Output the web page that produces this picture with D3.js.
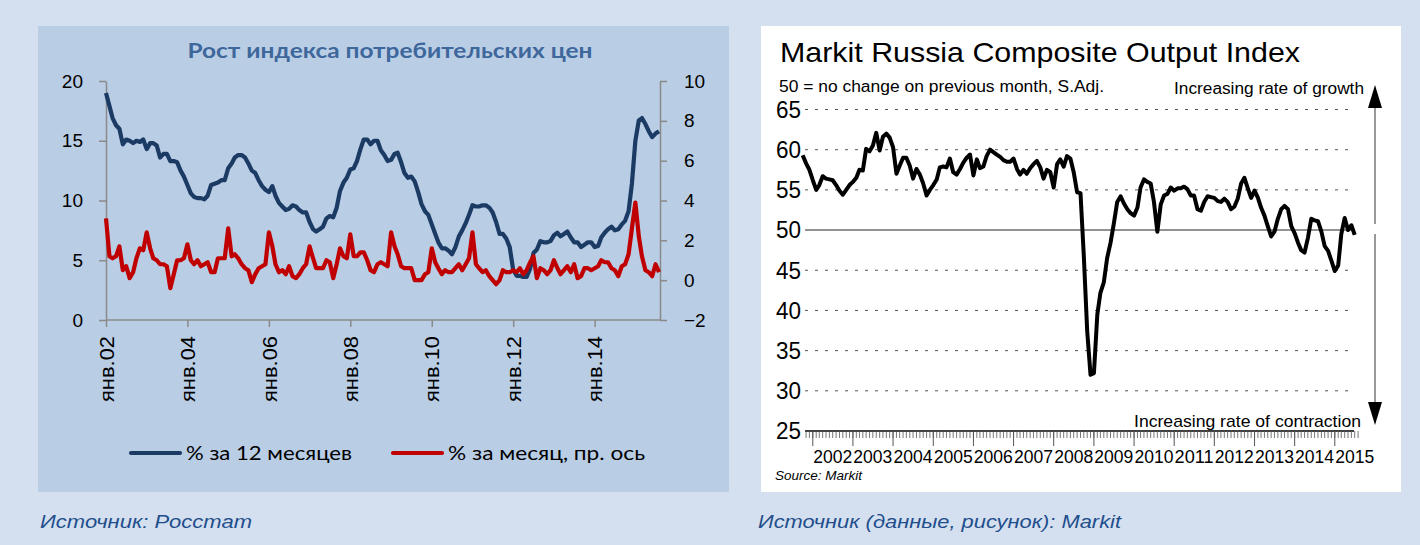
<!DOCTYPE html>
<html>
<head>
<meta charset="utf-8">
<script src="https://cdn.jsdelivr.net/npm/d3@7"></script>
<style>
  html, body { margin: 0; padding: 0; background: #d4e0ef; }
  svg { display: block; }
</style>
</head>
<body>
<div id="chart"></div>
<script>
// ---- data: CPI (Rosstat), monthly from Jan 2002 ----
const cpiStart = new Date(2002, 0, 1);
const cpiYear = [
  19.0, 17.9, 16.9, 16.3, 16.0, 14.7, 15.1, 15.0, 14.8, 15.0, 14.9, 15.1,
  14.3, 14.8, 14.8, 14.6, 13.6, 13.9, 13.9, 13.3, 13.3, 13.2, 12.5, 12.0,
  11.3, 10.6, 10.3, 10.2, 10.2, 10.1, 10.4, 11.3, 11.4, 11.5, 11.7, 11.7,
  12.7, 13.1, 13.6, 13.8, 13.8, 13.6, 13.1, 12.5, 12.3, 11.7, 11.2, 10.9,
  10.7, 11.2, 10.4, 9.8, 9.5, 9.2, 9.3, 9.6, 9.5, 9.2, 9.0, 9.0,
  8.2, 7.6, 7.4, 7.6, 7.8, 8.5, 8.7, 8.6, 9.4, 10.8, 11.5, 11.9,
  12.6, 12.7, 13.3, 14.3, 15.1, 15.1, 14.7, 15.0, 15.0, 14.2, 13.8, 13.3,
  13.4, 13.9, 14.0, 13.2, 12.3, 11.9, 12.0, 11.6, 10.7, 9.7, 9.1, 8.8,
  8.0, 7.2, 6.5, 6.0, 6.0, 5.8, 5.5, 6.1, 7.0, 7.5, 8.1, 8.8,
  9.6, 9.5, 9.5, 9.6, 9.6, 9.4, 9.0, 8.2, 7.2, 7.2, 6.8, 6.1,
  4.2, 3.7, 3.7, 3.6, 3.6, 4.3, 5.6, 5.9, 6.6, 6.5, 6.5, 6.6,
  7.1, 7.3, 7.0, 7.2, 7.4, 6.9, 6.5, 6.5, 6.1, 6.3, 6.5, 6.5,
  6.1, 6.2, 6.9, 7.3, 7.6, 7.8, 7.5, 7.6, 8.0, 8.3, 9.1, 11.4,
  15.0, 16.7, 16.9, 16.4, 15.8, 15.3, 15.6, 15.8
];
const cpiMonth = [
  3.1, 1.2, 1.1, 1.2, 1.7, 0.5, 0.7, 0.1, 0.4, 1.1, 1.6, 1.5,
  2.4, 1.6, 1.1, 1.0, 0.8, 0.8, 0.7, -0.4, 0.3, 1.0, 1.0, 1.1,
  1.8, 1.0, 0.8, 1.0, 0.7, 0.8, 0.9, 0.4, 0.4, 1.1, 1.1, 1.1,
  2.6, 1.2, 1.3, 1.1, 0.8, 0.6, 0.5, -0.1, 0.3, 0.6, 0.7, 0.8,
  2.4, 1.7, 0.8, 0.4, 0.5, 0.3, 0.7, 0.2, 0.1, 0.3, 0.6, 0.8,
  1.7, 1.1, 0.6, 0.6, 0.6, 1.0, 0.9, 0.1, 0.8, 1.6, 1.2, 1.1,
  2.3, 1.2, 1.2, 1.4, 1.4, 1.0, 0.5, 0.4, 0.8, 0.9, 0.8, 0.7,
  2.4, 1.7, 1.3, 0.7, 0.6, 0.6, 0.6, 0.0, 0.0, 0.0, 0.3, 0.4,
  1.6, 0.9, 0.6, 0.3, 0.5, 0.4, 0.4, 0.6, 0.8, 0.5, 0.8, 1.1,
  2.4, 0.8, 0.6, 0.4, 0.5, 0.2, 0.0, -0.2, 0.0, 0.5, 0.4, 0.4,
  0.5, 0.4, 0.6, 0.3, 0.5, 0.9, 1.2, 0.1, 0.6, 0.5, 0.3, 0.5,
  1.0, 0.6, 0.3, 0.5, 0.7, 0.4, 0.8, 0.1, 0.2, 0.6, 0.6, 0.5,
  0.6, 0.7, 1.0, 0.9, 0.9, 0.6, 0.5, 0.2, 0.7, 0.8, 1.3, 2.6,
  3.9, 2.2, 1.2, 0.5, 0.4, 0.2, 0.8, 0.4
];
const cpiLeftTicks = [0, 5, 10, 15, 20];
const cpiRightTicks = [-2, 0, 2, 4, 6, 8, 10];
const cpiTickYears = [2002, 2004, 2006, 2008, 2010, 2012, 2014];
const cpiTitle = "Рост индекса потребительских цен";
const cpiLegend = ["% за 12 месяцев", "% за месяц, пр. ось"];

// ---- data: Markit Russia Composite PMI, monthly from Oct 2001 ----
const pmiStart = new Date(2001, 9, 1);
const pmi = [
  59.3, 58.3, 57.5, 56.2, 55.0, 55.6, 56.7, 56.4, 56.3, 56.2,
  55.6, 54.9, 54.4, 55.0, 55.6, 56.0, 56.5, 57.5, 57.4, 60.1,
  59.8, 60.5, 62.1, 59.9, 61.6, 62.0, 61.5, 60.3, 57.0, 58.0,
  59.0, 59.0, 58.0, 56.4, 57.6, 56.9, 55.8, 54.3, 55.0, 55.6,
  56.3, 57.8, 57.9, 57.8, 58.9, 57.2, 56.9, 57.6, 58.4, 59.0,
  59.4, 56.8, 58.8, 57.7, 57.9, 59.2, 60.0, 59.7, 59.4, 59.1,
  58.7, 58.5, 58.5, 58.9, 57.6, 56.9, 57.5, 57.0, 57.7, 58.2,
  58.6, 57.8, 56.4, 57.5, 57.2, 55.3, 58.2, 58.8, 57.9, 59.2,
  58.9, 57.2, 54.7, 54.6, 46.8, 37.4, 32.0, 32.2, 39.5, 42.2,
  43.5, 46.5, 48.4, 50.8, 53.5, 54.2, 53.3, 52.6, 52.1, 51.8,
  52.8, 55.3, 56.3, 56.0, 55.8, 53.5, 49.8, 53.2, 54.3, 54.5,
  55.3, 54.9, 55.2, 55.2, 55.4, 55.1, 54.3, 54.3, 52.6, 52.4,
  53.5, 54.2, 54.1, 54.0, 53.6, 53.5, 53.9, 53.5, 52.6, 52.9,
  53.9, 55.8, 56.5, 55.2, 54.0, 54.9, 54.0, 52.8, 51.8, 50.5,
  49.2, 49.8, 51.4, 52.6, 53.0, 52.6, 50.5, 49.6, 48.4, 47.5,
  47.2, 49.0, 51.4, 51.2, 51.1, 49.8, 48.0, 47.4, 46.2, 44.9,
  45.6, 49.5, 51.5, 50.0, 50.6, 49.4
];
const pmiTicks = [25, 30, 35, 40, 45, 50, 55, 60, 65];
const pmiYears = [2002, 2003, 2004, 2005, 2006, 2007, 2008, 2009, 2010, 2011, 2012, 2013, 2014, 2015];

const width = 1420;
const height = 545;

const svg = d3.select("#chart")
  .append("svg")
  .attr("width", width)
  .attr("height", height);

svg.append("rect")
  .attr("width", width).attr("height", height)
  .attr("fill", "#d4e0ef");

// =================== left chart ===================
const left = svg.append("g").style("font-family", "Lato, 'Open Sans', sans-serif");

left.append("rect")
  .attr("x", 38).attr("y", 26)
  .attr("width", 691).attr("height", 466)
  .attr("fill", "#b9cde5");

const xL = d3.scaleTime()
  .domain([cpiStart, new Date(2015, 7, 1)])
  .range([106, 659]);
const yL = d3.scaleLinear().domain([0, 20]).range([320, 81]);
const yL2 = d3.scaleLinear().domain([-2, 10]).range([320, 81]);

const axisColor = "#8a8a8a";

function styleAxis(g) {
  g.select(".domain").attr("stroke", axisColor).attr("stroke-width", 1.5);
  g.selectAll(".tick line").attr("stroke", axisColor).attr("stroke-width", 1.5);
  g.selectAll("text").attr("fill", "#000").style("font-size", "19px");
}

left.append("g")
  .attr("transform", "translate(106,0)")
  .call(d3.axisLeft(yL).tickValues(cpiLeftTicks).tickSize(7).tickSizeOuter(0).tickPadding(16))
  .call(styleAxis);

left.append("g")
  .attr("transform", "translate(660,0)")
  .call(d3.axisRight(yL2).tickValues(cpiRightTicks).tickSize(7).tickSizeOuter(0).tickPadding(17))
  .call(styleAxis);

const xAxisL = left.append("g")
  .attr("transform", "translate(0,320)")
  .call(d3.axisBottom(xL)
    .tickValues(cpiTickYears.map(y => new Date(y, 0, 1)))
    .tickFormat(d => "янв." + d3.timeFormat("%y")(d))
    .tickSize(7).tickSizeOuter(0))
  .call(styleAxis);

xAxisL.select(".domain").attr("d", "M106,0H660");

xAxisL.selectAll("text")
  .attr("transform", "rotate(-90)")
  .attr("text-anchor", "end")
  .attr("x", -16)
  .attr("y", 0)
  .attr("dy", "0.36em")
  .style("font-size", "20px")
  .attr("textLength", 66)
  .attr("lengthAdjust", "spacingAndGlyphs");

const cpiYearPts = cpiYear.map((v, i) => ({ date: d3.timeMonth.offset(cpiStart, i), v }));
const cpiMonthPts = cpiMonth.map((v, i) => ({ date: d3.timeMonth.offset(cpiStart, i), v }));

left.append("path")
  .datum(cpiYearPts)
  .attr("fill", "none")
  .attr("stroke", "#1b3a64")
  .attr("stroke-width", 4.2)
  .attr("stroke-linejoin", "round")
  .attr("d", d3.line().x(d => xL(d.date)).y(d => yL(d.v)));

left.append("path")
  .datum(cpiMonthPts)
  .attr("fill", "none")
  .attr("stroke", "#c00000")
  .attr("stroke-width", 4.2)
  .attr("stroke-linejoin", "round")
  .attr("d", d3.line().x(d => xL(d.date)).y(d => yL2(d.v)));

left.append("text")
  .attr("x", 390).attr("y", 58)
  .attr("text-anchor", "middle")
  .attr("fill", "#3e679b")
  .style("font-size", "21px")
  .style("font-weight", "bold")
  .attr("textLength", 405)
  .attr("lengthAdjust", "spacingAndGlyphs")
  .text(cpiTitle);

// legend
const legendItems = [
  { x: 131, color: "#1b3a64", label: cpiLegend[0], w: 166 },
  { x: 393, color: "#c00000", label: cpiLegend[1], w: 197 }
];
legendItems.forEach(d => {
  left.append("line")
    .attr("x1", d.x).attr("x2", d.x + 49)
    .attr("y1", 453).attr("y2", 453)
    .attr("stroke", d.color).attr("stroke-width", 4.2)
    .attr("stroke-linecap", "round");
  left.append("text")
    .attr("x", d.x + 55).attr("y", 460)
    .style("font-size", "20px")
    .attr("fill", "#000")
    .attr("textLength", d.w)
    .attr("lengthAdjust", "spacingAndGlyphs")
    .text(d.label);
});

// =================== right chart ===================
const right = svg.append("g").style("font-family", "'Liberation Sans', Arial, sans-serif");

right.append("rect")
  .attr("x", 761).attr("y", 26)
  .attr("width", 640).attr("height", 466)
  .attr("fill", "#ffffff");

const xR = d3.scaleTime()
  .domain([new Date(2002, 0, 1), new Date(2015, 0, 1)])
  .range([812.8, 1334.8]);
const yR = d3.scaleLinear().domain([25, 65]).range([431, 109.5]);

// gridlines
right.append("g")
  .selectAll("line")
  .data(pmiTicks.filter(t => t > 25))
  .enter()
  .append("line")
  .attr("x1", 805).attr("x2", 1352)
  .attr("y1", d => yR(d)).attr("y2", d => yR(d))
  .attr("stroke", d => d === 50 ? "#6e6e6e" : "#555")
  .attr("stroke-width", d => d === 50 ? 1.5 : 1)
  .attr("stroke-dasharray", d => d === 50 ? null : "3,7");

// y labels
right.append("g")
  .selectAll("text")
  .data(pmiTicks)
  .enter()
  .append("text")
  .attr("x", 801)
  .attr("y", d => yR(d))
  .attr("dy", "0.36em")
  .attr("text-anchor", "end")
  .style("font-size", "23px")
  .attr("textLength", 25)
  .attr("lengthAdjust", "spacingAndGlyphs")
  .attr("fill", "#000")
  .text(d => d);

// x axis: monthly minor ticks, yearly major ticks
const xAxisR = right.append("g").attr("transform", "translate(0,431)");
xAxisR.append("line")
  .attr("x1", 805).attr("x2", 1354)
  .attr("stroke", "#000").attr("stroke-width", 1.5);

xAxisR.selectAll("line.minor")
  .data(d3.timeMonth.range(new Date(2001, 10, 1), new Date(2015, 8, 1)))
  .enter()
  .append("line")
  .attr("class", "minor")
  .attr("x1", d => xR(d)).attr("x2", d => xR(d))
  .attr("y1", 0).attr("y2", 7)
  .attr("stroke", "#555").attr("stroke-width", 0.8);

xAxisR.selectAll("line.major")
  .data(pmiYears)
  .enter()
  .append("line")
  .attr("class", "major")
  .attr("x1", d => xR(new Date(d, 0, 1))).attr("x2", d => xR(new Date(d, 0, 1)))
  .attr("y1", 0).attr("y2", 15)
  .attr("stroke", "#555").attr("stroke-width", 1);

xAxisR.selectAll("text")
  .data(pmiYears)
  .enter()
  .append("text")
  .attr("x", d => xR(new Date(d, 6, 1)))
  .attr("y", 32)
  .attr("text-anchor", "middle")
  .style("font-size", "18px")
  .attr("textLength", 39)
  .attr("lengthAdjust", "spacingAndGlyphs")
  .attr("fill", "#000")
  .text(d => d);

// PMI line
const pmiPts = pmi.map((v, i) => ({ date: d3.timeMonth.offset(pmiStart, i), v }));
right.append("path")
  .datum(pmiPts)
  .attr("fill", "none")
  .attr("stroke", "#000")
  .attr("stroke-width", 4)
  .attr("stroke-linejoin", "round")
  .attr("d", d3.line().x(d => xR(d.date)).y(d => yR(d.v)));

// title and notes
right.append("text")
  .attr("x", 780).attr("y", 62)
  .style("font-size", "28px")
  .attr("textLength", 520)
  .attr("lengthAdjust", "spacingAndGlyphs")
  .text("Markit Russia Composite Output Index");

right.append("text")
  .attr("x", 779).attr("y", 92)
  .style("font-size", "16px")
  .attr("textLength", 325)
  .attr("lengthAdjust", "spacingAndGlyphs")
  .text("50 = no change on previous month, S.Adj.");

right.append("text")
  .attr("x", 1364).attr("y", 94)
  .attr("text-anchor", "end")
  .style("font-size", "16px")
  .attr("textLength", 190)
  .attr("lengthAdjust", "spacingAndGlyphs")
  .text("Increasing rate of growth");

right.append("text")
  .attr("x", 1361).attr("y", 427)
  .attr("text-anchor", "end")
  .style("font-size", "17px")
  .attr("textLength", 227)
  .attr("lengthAdjust", "spacingAndGlyphs")
  .text("Increasing rate of contraction");

right.append("text")
  .attr("x", 775).attr("y", 480)
  .style("font-size", "12px")
  .style("font-style", "italic")
  .attr("textLength", 87)
  .attr("lengthAdjust", "spacingAndGlyphs")
  .text("Source: Markit");

// growth / contraction arrow
const arrowX = 1375;
right.append("line")
  .attr("x1", arrowX).attr("x2", arrowX)
  .attr("y1", 106).attr("y2", 224)
  .attr("stroke", "#777").attr("stroke-width", 1.5);
right.append("line")
  .attr("x1", arrowX).attr("x2", arrowX)
  .attr("y1", 234).attr("y2", 404)
  .attr("stroke", "#777").attr("stroke-width", 1.5);
right.append("path")
  .attr("d", `M${arrowX},85L${arrowX + 7},108L${arrowX - 7},108Z`)
  .attr("fill", "#000");
right.append("path")
  .attr("d", `M${arrowX},425L${arrowX + 7},402L${arrowX - 7},402Z`)
  .attr("fill", "#000");

// =================== sources ===================
const sources = [
  { x: 40, w: 212, text: "Источник:  Росстат" },
  { x: 758, w: 363, text: "Источник (данные, рисунок):  Markit" }
];
sources.forEach(d => {
  svg.append("text")
    .attr("x", d.x).attr("y", 528)
    .style("font-family", "'Liberation Sans', Arial, sans-serif")
    .style("font-size", "18px")
    .style("font-style", "italic")
    .attr("fill", "#1f4e8c")
    .attr("textLength", d.w)
    .attr("lengthAdjust", "spacingAndGlyphs")
    .text(d.text);
});
</script>
</body>
</html>
